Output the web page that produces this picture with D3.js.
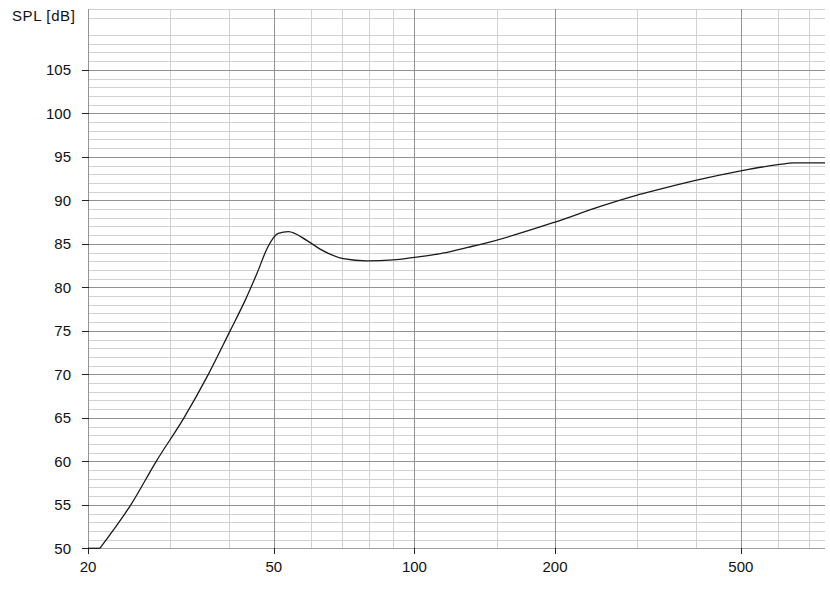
<!DOCTYPE html>
<html>
<head>
<meta charset="utf-8">
<script src="https://cdn.jsdelivr.net/npm/d3@7"></script>
<style>
  body { margin: 0; background: #fff; }
  svg { display: block; }
  .lbl { font-family: "Liberation Sans", Arial, sans-serif; font-size: 15px; fill: #111; }
</style>
</head>
<body>
<div id="chart"></div>
<script>
// frequency response
var freqs = [20, 21.2, 24.7, 28, 32.1, 36.2, 40.3, 43.4, 46, 48.6, 51.1, 53.7, 58.8, 62.8,
             70.4, 79, 90, 100, 113, 130, 140, 200, 250, 300, 320, 400, 500, 600, 650, 757];
var spl   = [47.7, 50, 55, 60, 65, 70, 75, 78.5, 81.6, 84.7, 86.2, 86.4, 85.4, 84.4,
             83.3, 83.05, 83.15, 83.45, 83.85, 84.6, 85.0, 87.5, 89.3, 90.6, 91.0, 92.3, 93.4, 94.1, 94.3, 94.3];

var xMajor = [50, 100, 200, 500];
var xMinor = [30, 40, 60, 70, 80, 90, 150, 300, 400, 600, 700];
var xLabels = [20, 50, 100, 200, 500];
var yLabels = [50, 55, 60, 65, 70, 75, 80, 85, 90, 95, 100, 105];
var yMinor = d3.range(51, 113);
var yTitle = 'SPL [dB]';

var W = 830, H = 589;
var x0 = 88, x1 = 825, yBot = 548.3, yTop = 9;

var x = d3.scaleLog().domain([20, 757]).range([x0, x1]);
var y = d3.scaleLinear().domain([50, 112]).range([yBot, yTop]).clamp(true);

var svg = d3.select('#chart').append('svg')
    .attr('width', W)
    .attr('height', H);

var grid = svg.append('g').attr('shape-rendering', 'crispEdges');

function px(v) { return Math.round(v) + 0.5; }

// minor horizontal
grid.selectAll('.hmin')
  .data(yMinor.filter(function(d) { return d % 5 !== 0; }))
  .enter().append('line')
    .attr('x1', x0).attr('x2', x1)
    .attr('y1', function(d) { return px(y(d)); })
    .attr('y2', function(d) { return px(y(d)); })
    .attr('stroke', '#d2d2d2');

// minor vertical
grid.selectAll('.vmin')
  .data(xMinor)
  .enter().append('line')
    .attr('y1', yTop).attr('y2', yBot)
    .attr('x1', function(d) { return px(x(d)); })
    .attr('x2', function(d) { return px(x(d)); })
    .attr('stroke', '#d2d2d2');

// major horizontal
grid.selectAll('.hmaj')
  .data(yLabels.filter(function(d) { return d > 50; }))
  .enter().append('line')
    .attr('x1', x0).attr('x2', x1)
    .attr('y1', function(d) { return px(y(d)); })
    .attr('y2', function(d) { return px(y(d)); })
    .attr('stroke', '#939393');

// major vertical
grid.selectAll('.vmaj')
  .data(xMajor)
  .enter().append('line')
    .attr('y1', yTop).attr('y2', yBot)
    .attr('x1', function(d) { return px(x(d)); })
    .attr('x2', function(d) { return px(x(d)); })
    .attr('stroke', '#939393');

// axis lines
grid.append('line')
    .attr('x1', x0 + 0.5).attr('x2', x0 + 0.5)
    .attr('y1', yTop).attr('y2', px(yBot))
    .attr('stroke', '#939393');
grid.append('line')
    .attr('x1', x0).attr('x2', x1)
    .attr('y1', px(yBot)).attr('y2', px(yBot))
    .attr('stroke', '#a0a0a0');

// ticks
grid.selectAll('.ytick')
  .data(yLabels)
  .enter().append('line')
    .attr('x1', x0 - 6).attr('x2', x0 + 1)
    .attr('y1', function(d) { return px(y(d)); })
    .attr('y2', function(d) { return px(y(d)); })
    .attr('stroke', '#222');
grid.selectAll('.xtick')
  .data(xLabels)
  .enter().append('line')
    .attr('y1', Math.round(yBot)).attr('y2', Math.round(yBot) + 6)
    .attr('x1', function(d) { return px(x(d)); })
    .attr('x2', function(d) { return px(x(d)); })
    .attr('stroke', '#222');

// labels
svg.selectAll('.ylbl')
  .data(yLabels)
  .enter().append('text')
    .attr('class', 'lbl')
    .attr('x', 71)
    .attr('y', function(d) { return y(d); })
    .attr('dy', '0.36em')
    .attr('text-anchor', 'end')
    .text(function(d) { return d; });

svg.selectAll('.xlbl')
  .data(xLabels)
  .enter().append('text')
    .attr('class', 'lbl')
    .attr('x', function(d) { return x(d); })
    .attr('y', 572)
    .attr('text-anchor', 'middle')
    .text(function(d) { return d; });

svg.append('text')
    .attr('class', 'lbl')
    .attr('x', 12)
    .attr('y', 21)
    .attr('letter-spacing', '0.6')
    .text(yTitle);

// response curve: part below 50 dB is clamped onto the axis, the rest smoothed
var pts = freqs.map(function(f, i) { return [f, spl[i]]; });
var first = pts.findIndex(function(p) { return p[1] >= 50; });

var lineLow = d3.line()
    .x(function(d) { return x(d[0]); })
    .y(function(d) { return y(d[1]); });
var lineMain = d3.line()
    .curve(d3.curveMonotoneX)
    .x(function(d) { return x(d[0]); })
    .y(function(d) { return y(d[1]); });

svg.append('path')
    .attr('d', lineLow(pts.slice(0, first + 1)))
    .attr('fill', 'none')
    .attr('stroke', '#1a1a1a')
    .attr('stroke-width', 1.3);

svg.append('path')
    .attr('d', lineMain(pts.slice(first)))
    .attr('fill', 'none')
    .attr('stroke', '#1a1a1a')
    .attr('stroke-width', 1.3);
</script>
</body>
</html>
